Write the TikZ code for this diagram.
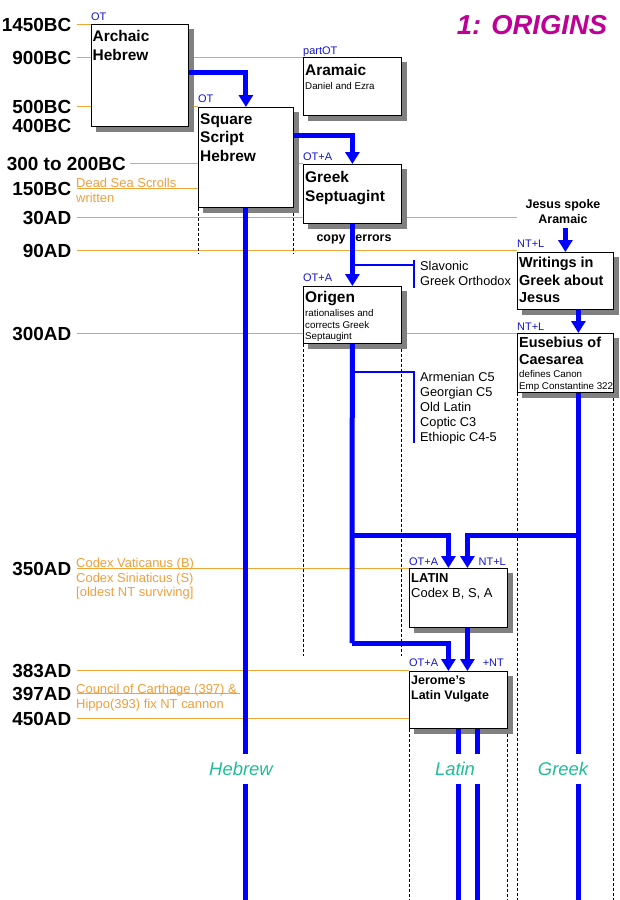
\documentclass[tikz,border=0pt]{standalone}
\usepackage{fontspec}
\setmainfont{Liberation Sans}
\usetikzlibrary{arrows.meta}
\pgfdeclarelayer{bg}
\pgfdeclarelayer{shd}
\pgfsetlayers{bg,shd,main}
\definecolor{orgline}{RGB}{240,165,55}
\definecolor{orgtext}{RGB}{238,160,60}
\definecolor{flowblue}{RGB}{0,0,255}
\definecolor{tagblue}{RGB}{20,20,210}
\definecolor{langgreen}{RGB}{32,190,150}
\definecolor{titlemag}{RGB}{190,0,150}
\definecolor{shadegrey}{RGB}{128,128,128}
\tikzset{
  box/.style={draw=black, line width=0.8bp, fill=white, anchor=north west, inner sep=0pt},
  boxshadow/.style={fill=shadegrey},
  datelbl/.style={anchor=east, inner sep=0pt, text height=13.6pt, text depth=0pt,
    font=\fontsize{19}{19}\selectfont\bfseries},
  tline/.style={draw=orgline, line width=1bp},
  guide/.style={draw=black, line width=0.7bp, dash pattern=on 3bp off 2bp},
  flow/.style={draw=flowblue, line width=5bp, -{Triangle[width=14bp,length=12bp]}},
  flowline/.style={draw=flowblue, line width=5bp},
  thinflow/.style={draw=flowblue, line width=2bp},
  btitle/.style={anchor=north west, inner sep=0pt, align=left},
  tag/.style={anchor=west, inner sep=0pt, text height=7.6pt, text depth=0pt, text=tagblue, font=\fontsize{11}{12}\selectfont},
  note/.style={anchor=north west, inner sep=0pt, align=left, text=orgtext, font=\fontsize{13}{15}\selectfont},
  side/.style={anchor=north west, inner sep=0pt, align=left, font=\fontsize{12.8}{15}\selectfont},
  small/.style={anchor=north west, inner sep=0pt, align=left, font=\fontsize{9.8}{11.5}\selectfont},
  lang/.style={inner sep=0pt, minimum height=29bp, text=langgreen, font=\fontsize{18.5}{20}\selectfont\itshape},
}
\begin{document}
\begin{tikzpicture}[x=1bp,y=-1bp]
\useasboundingbox (0,0) rectangle (620,900);
\coordinate (bottom) at (0,900);

% title
\node[text=titlemag, font=\fontsize{27.5}{30}\selectfont\bfseries\itshape, inner sep=0pt] (title) at (532,25) {1: ORIGINS};

% date labels
\node[datelbl] (d1450) at (71.5,24.5) {1450BC};
\node[datelbl] (d900) at (71.5,57.5) {900BC};
\node[datelbl] (d500) at (71.5,106.5) {500BC};
\node[datelbl] (d400) at (71.5,126) {400BC};
\node[datelbl] (d300bc) at (126,163.5) {300 to 200BC};
\node[datelbl] (d150) at (71.5,188.5) {150BC};
\node[datelbl] (d30) at (71.5,217.5) {30AD};
\node[datelbl] (d90) at (71.5,250.5) {90AD};
\node[datelbl] (d300) at (71.5,333.5) {300AD};
\node[datelbl] (d350) at (71.5,568.5) {350AD};
\node[datelbl] (d383) at (71.5,670.5) {383AD};
\node[datelbl] (d397) at (71.5,693.5) {397AD};
\node[datelbl] (d450) at (71.5,718.5) {450AD};

% boxes
\node[box, minimum width=97bp, minimum height=102bp] (arch) at (91,24) {};
\node[box, minimum width=98bp, minimum height=58bp] (aram) at (303,57) {};
\node[box, minimum width=95bp, minimum height=100bp] (sq) at (198,107) {};
\node[box, minimum width=98bp, minimum height=59bp] (gs) at (303,164) {};
\node[box, minimum width=98bp, minimum height=57bp] (org) at (303,286) {};
\node[box, minimum width=96bp, minimum height=57bp] (wr) at (517,252) {};
\node[box, minimum width=96bp, minimum height=59bp] (eus) at (517,333) {};
\node[box, minimum width=98bp, minimum height=59bp] (lat) at (409,568) {};
\node[box, minimum width=98bp, minimum height=57bp] (jer) at (409,671) {};

% shadows
\begin{pgfonlayer}{shd}
\foreach \b in {arch,aram,sq,gs,org,wr,eus,lat,jer}{
  \fill[boxshadow] ([shift={(5,5)}]\b.north west) rectangle ([shift={(5,5)}]\b.south east);
}
\end{pgfonlayer}

\coordinate (c397) at (240,693.5);

% background: orange time lines and dashed guides
\begin{pgfonlayer}{bg}
\fill[white] (0,0) rectangle (620,900);
\draw[tline] ([xshift=5bp]d1450.east) -- (d1450.east -| arch.west);
\draw[tline] ([xshift=5bp]d900.east) -- (d900.east -| arch.west);
\draw[tline] (d900.east -| arch.east) -- (d900.east -| aram.west);
\draw[tline] ([xshift=5bp]d500.east) -- (d500.east -| arch.west);
\draw[tline] (d500.east -| arch.east) -- (d500.east -| sq.west);
\draw[tline] ([xshift=4bp]d300bc.east) -- (d300bc.east -| sq.west);
\draw[tline] (d300bc.east -| sq.east) -- (d300bc.east -| gs.west);
\draw[tline] ([xshift=5bp]d150.east) -- (d150.east -| sq.west);
\draw[tline] ([xshift=5bp]d30.east) -- (d30.east -| gs.west);
\draw[tline] (d30.east -| gs.east) -- (d30.east -| wr.west);
\draw[tline] ([xshift=5bp]d90.east) -- (d90.east -| wr.west);
\draw[tline] ([xshift=5bp]d300.east) -- (d300.east -| org.west);
\draw[tline] (d300.east -| org.east) -- (d300.east -| eus.west);
\draw[tline] ([xshift=5bp]d350.east) -- (d350.east -| lat.west);
\draw[tline] ([xshift=5bp]d383.east) -- (d383.east -| jer.west);
\draw[tline] ([xshift=5bp]d397.east) -- (c397);
\draw[tline] ([xshift=5bp]d450.east) -- (d450.east -| jer.west);
% dashed guides
\draw[guide] (sq.south west) -- ++(0,46);
\draw[guide] (sq.south east) -- ++(0,46);
\draw[guide] (org.south west) -- ++(0,312);
\draw[guide] (org.south east) -- ++(0,312);
\draw[guide] (eus.south west) -- (eus.south west |- bottom);
\draw[guide] (eus.south east) -- (eus.south east |- bottom);
\draw[guide] (jer.south west) -- (jer.south west |- bottom);
\draw[guide] (jer.south east) -- (jer.south east |- bottom);
\end{pgfonlayer}

% box texts
\node[btitle, font=\fontsize{15.5}{19}\selectfont\bfseries] (archt) at (92.5,30.5) {Archaic\\Hebrew};
\node[btitle, font=\fontsize{15.5}{19}\selectfont\bfseries] (aramt) at (305,64.5) {Aramaic};
\node[small] (arams) at (305,82.6) {Daniel and Ezra};
\node[btitle, font=\fontsize{15.5}{18.5}\selectfont\bfseries] (sqt) at (200,113.5) {Square\\Script\\Hebrew};
\node[btitle, font=\fontsize{15.5}{19}\selectfont\bfseries] (gst) at (305,171.5) {Greek\\Septuagint};
\node[btitle, font=\fontsize{15.5}{19}\selectfont\bfseries] (orgt) at (305,291.5) {Origen};
\node[small] (orgs) at (305,309.5) {rationalises and\\corrects Greek\\Septaugint};
\node[btitle, font=\fontsize{14.5}{17.5}\selectfont\bfseries] (wrt) at (519,257) {Writings in\\Greek about\\Jesus};
\node[btitle, font=\fontsize{14.5}{16.5}\selectfont\bfseries] (eust) at (519,337) {Eusebius of\\Caesarea};
\node[small] (euss) at (519,370.5) {defines Canon\\Emp Constantine 322};
\node[btitle, font=\fontsize{13}{15}\selectfont\bfseries] (latt) at (411,573.5) {LATIN};
\node[btitle, font=\fontsize{13}{15}\selectfont] (lats) at (411,588.3) {Codex B, S, A};
\node[btitle, font=\fontsize{12.5}{15}\selectfont\bfseries] (jert) at (411,675.5) {Jerome’s\\Latin Vulgate};

% tags
\node[tag] (tarch) at (91,17) {OT};
\node[tag] (taram) at (303,51) {partOT};
\node[tag] (tsq) at (198,99) {OT};
\node[tag] (tgs) at (303,157) {OT+A};
\node[tag] (torg) at (303,278) {OT+A};
\node[tag] (twr) at (517,244) {NT+L};
\node[tag] (teus) at (517,327) {NT+L};
\node[tag] (tlat1) at (409,562) {OT+A};
\node[tag, anchor=east] (tlat2) at (506,562) {NT+L};
\node[tag] (tjer1) at (409,663) {OT+A};
\node[tag, anchor=east] (tjer2) at (504,663) {+NT};

% notes
\node[note] (dss) at (76,177.5) {Dead Sea Scrolls\\written};
\node[note] (codex) at (76,557.5) {Codex Vaticanus (B)\\Codex Siniaticus (S)\\{[oldest NT surviving]}};
\node[note] (council) at (76,683.5) {Council of Carthage (397) \&\\Hippo(393) fix NT cannon};

\node[side] (slav) at (420,261.5) {Slavonic\\Greek Orthodox};
\node[side] (arm) at (420,372.5) {Armenian C5\\Georgian C5\\Old Latin\\Coptic C3\\Ethiopic C4-5};

\node[anchor=north, inner sep=0pt, align=center, font=\fontsize{12.5}{15}\selectfont\bfseries] (jesus) at (563,199.5) {Jesus spoke\\Aramaic};
\node[inner sep=0pt, font=\fontsize{12.5}{15}\selectfont\bfseries] (copy) at (354,239) {copy\hspace{6.5pt} errors};

% language labels
\node[lang] (heblbl) at (241,769) {Hebrew};
\node[lang] (latlbl) at (455,769) {Latin};
\node[lang] (gklbl) at (563,769) {Greek};

% flows
\draw[flow] ([yshift=3bp]arch.east) -| (sq.north);
\draw[flow] ([yshift=22bp]sq.east) -| (gs.north);
\draw[flow] (gs.south) -- (org.north);
\coordinate (jbend) at (352,643);
\coordinate (ja) at (352,535);
\coordinate (jb) at (578,535);
\draw[flowline] (org.south) -- (ja) -- (jbend);
\draw[flow] (jbend) -| ([xshift=-10bp]jer.north);
\draw[flow] (ja) -| ([xshift=-10bp]lat.north);
\draw[flow] (jb) -| ([xshift=9bp]lat.north);
\draw[flow] ([xshift=9bp]lat.south) -- ([xshift=9bp]jer.north);
\draw[flow] ([yshift=-4bp]jesus.south -| wr.north) -- (wr.north);
\draw[flow] ([xshift=13bp]wr.south) -- ([xshift=13bp]eus.north);

% language trunks
\coordinate (gkx) at ([xshift=13bp]eus.south);
\draw[flowline] (gkx) -- (gkx |- gklbl.north);
\draw[flowline] (gkx |- gklbl.south) -- (gkx |- bottom);
\draw[flowline] (sq.south) -- (sq.south |- heblbl.north);
\draw[flowline] (sq.south |- heblbl.south) -- (sq.south |- bottom);
\coordinate (la) at (jer.south);
\coordinate (lb) at ([xshift=19bp]jer.south);
\draw[flowline] (la) -- (la |- latlbl.north);
\draw[flowline] (la |- latlbl.south) -- (la |- bottom);
\draw[flowline] (lb) -- (lb |- latlbl.north);
\draw[flowline] (lb |- latlbl.south) -- (lb |- bottom);

% thin branches
\coordinate (s1) at (352,265);
\coordinate (s2) at (414,265);
\coordinate (s3) at (414,260);
\coordinate (s4) at (414,288);
\draw[thinflow] (s1) -- (s2);
\draw[thinflow] (s3) -- (s4);
\coordinate (a1) at (352,372);
\coordinate (a2) at (414,372);
\coordinate (a3) at (414,443);
\draw[thinflow] (a1) -- (a2) -- (a3);
\end{tikzpicture}
\end{document}
